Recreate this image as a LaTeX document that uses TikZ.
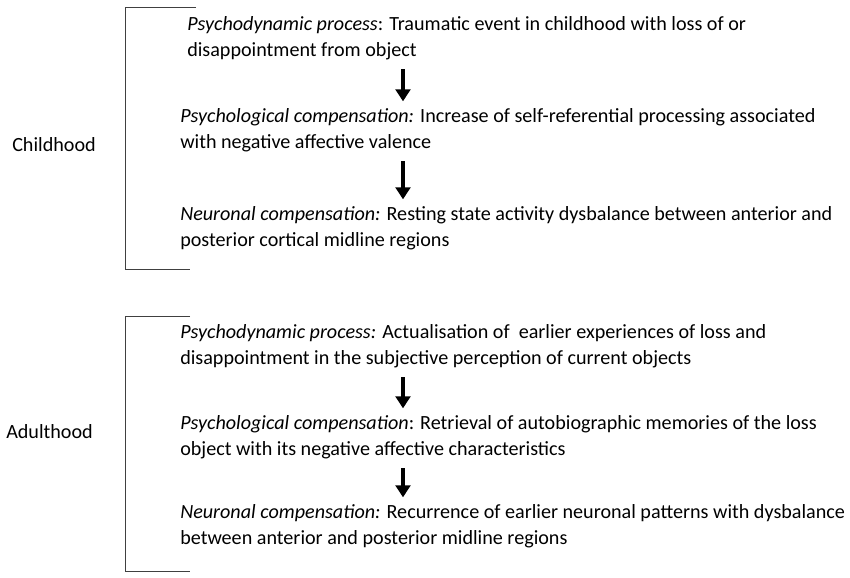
\documentclass[tikz,border=0pt]{standalone}
\usepackage{fontspec}
\setmainfont{Carlito}
\usetikzlibrary{arrows.meta}
\begin{document}
\begin{tikzpicture}[x=0.75pt,y=-0.75pt,
  stagetext/.style={anchor=north west,align=left,inner sep=0pt,font=\fontsize{15.1pt}{19.5pt}\selectfont},
  agelabel/.style={anchor=west,inner sep=0pt,font=\fontsize{15.1pt}{19.5pt}\selectfont},
  bigarrow/.style={line width=3pt,-{Triangle[width=11pt,length=9pt]}},
  bracketline/.style={line width=0.6pt,draw=black!75}]
\useasboundingbox (0,0) rectangle (850,578);

% brackets
\draw[bracketline] (196,7) -- (125,7) -- (125,269) -- (190,269);
\draw[bracketline] (190,316) -- (125,316) -- (125,571) -- (190,571);

% age labels
\node[agelabel] (child) at (12,145) {Childhood};
\node[agelabel] (adult) at (6,432) {Adulthood};

% childhood stages
\node[stagetext] (cpsy) at (187,16) {\textit{Psychodynamic process}: Traumatic event in childhood with loss of or\\disappointment from object};
\node[stagetext] (ccomp) at (180,108) {\textit{Psychological compensation:} Increase of self-referential processing associated\\with negative affective valence};
\node[stagetext] (cneu) at (180,206) {\textit{Neuronal compensation:} Resting state activity dysbalance between anterior and\\posterior cortical midline regions};

% adulthood stages
\node[stagetext] (apsy) at (180,324) {\textit{Psychodynamic process:} Actualisation of\ \ earlier experiences of loss and\\disappointment in the subjective perception of current objects};
\node[stagetext] (acomp) at (180,415) {\textit{Psychological compensation}: Retrieval of autobiographic memories of the loss\\object with its negative affective characteristics};
\node[stagetext] (aneu) at (180,504) {\textit{Neuronal compensation:} Recurrence of earlier neuronal patterns with dysbalance\\between anterior and posterior midline regions};

% arrows
\coordinate (ax) at (403,0);
\draw[bigarrow] ([yshift=-7pt]cpsy.south -| ax) -- ([yshift=5pt]ccomp.north -| ax);
\draw[bigarrow] ([yshift=-7pt]ccomp.south -| ax) -- ([yshift=5pt]cneu.north -| ax);
\draw[bigarrow] ([yshift=-7pt]apsy.south -| ax) -- ([yshift=5pt]acomp.north -| ax);
\draw[bigarrow] ([yshift=-7pt]acomp.south -| ax) -- ([yshift=5pt]aneu.north -| ax);
\end{tikzpicture}
\end{document}
